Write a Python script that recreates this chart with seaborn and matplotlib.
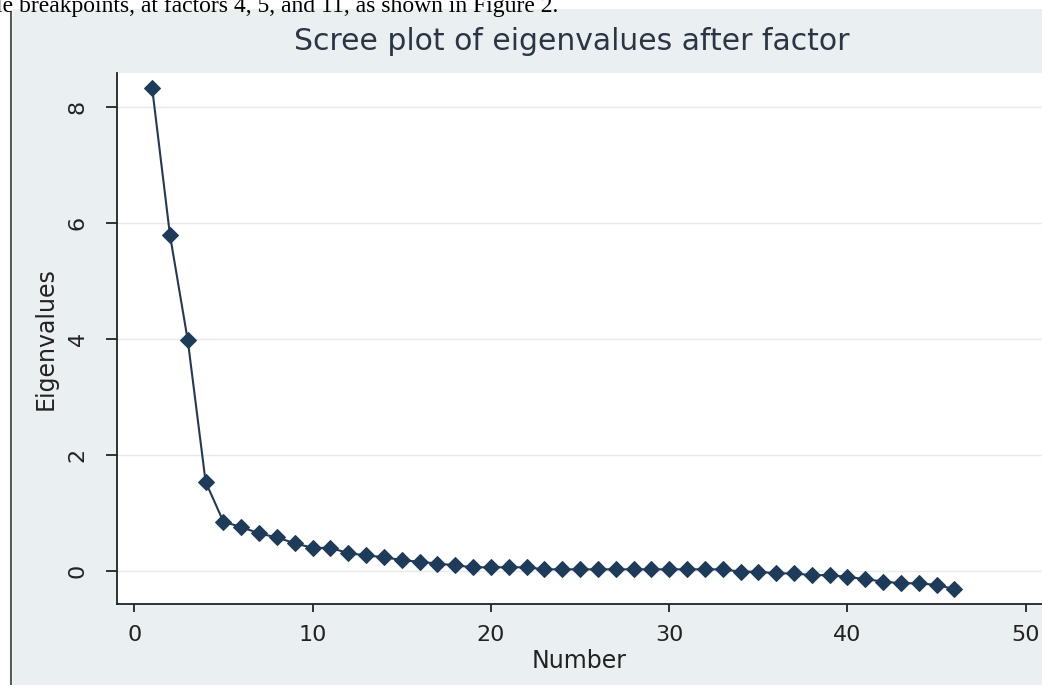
import matplotlib
matplotlib.use("Agg")
import matplotlib.pyplot as plt
from matplotlib.patches import Rectangle
import seaborn as sns
import pandas as pd

# ---- data ----
numbers = list(range(1, 47))
eigenvalues = [8.33, 5.79, 3.97, 1.53, 0.84, 0.75, 0.64, 0.57, 0.47, 0.39,
               0.39, 0.30, 0.26, 0.23, 0.18, 0.15, 0.12, 0.09, 0.055, 0.055,
               0.055, 0.055, 0.02, 0.02, 0.02, 0.02, 0.02, 0.02, 0.02, 0.02,
               0.02, 0.02, 0.02, -0.02, -0.02, -0.05, -0.05, -0.08, -0.08, -0.11,
               -0.15, -0.19, -0.22, -0.22, -0.25, -0.32]
x_ticks = [0, 10, 20, 30, 40, 50]
y_ticks = [0, 2, 4, 6, 8]
title = "Scree plot of eigenvalues after factor"
x_label = "Number"
y_label = "Eigenvalues"
caption = "le breakpoints, at factors 4, 5, and 11, as shown in Figure 2."

df = pd.DataFrame({"Number": numbers, "Eigenvalues": eigenvalues})

sns.set_style("white")
plt.rcParams["font.family"] = ["DejaVu Sans"]

W, H = 1042, 685
fig = plt.figure(figsize=(W / 100, H / 100), dpi=100)
fig.patch.set_facecolor("white")

# outer Stata-like graph region (drawn behind the axes)
bg = fig.add_axes([0, 0, 1, 1], zorder=-5)
bg.set_xlim(0, W)
bg.set_ylim(H, 0)
bg.axis("off")
bg.add_patch(Rectangle((13, 9), W - 13, H - 9, facecolor="#eaf0f2", edgecolor="none"))
bg.plot([11, 11], [12, H], color="#5a5a5a", lw=1.5)

# cut-off document text at top
fig.text(558 / W, 1 - 12 / H, caption, ha="right", va="baseline",
         fontsize=17, family=["Liberation Serif"], color="black")

left, right, top, bottom = 117, 1042, 72.7, 604
ax = fig.add_axes([left / W, 1 - bottom / H, (right - left) / W, (bottom - top) / H], zorder=2)
ax.set_facecolor("white")

sns.lineplot(data=df, x="Number", y="Eigenvalues", ax=ax, color="#253a52",
             linewidth=1.5, marker="D", markersize=8.5,
             markerfacecolor="#1f3b5a", markeredgecolor="#1f3b5a", zorder=3)

ax.set_xlim(-0.97, 50.91)
ax.set_ylim(-0.578, 8.59)
ax.set_xticks(x_ticks)
ax.set_yticks(y_ticks)
ax.set_xticklabels([str(v) for v in x_ticks])
ax.set_yticklabels([str(v) for v in y_ticks])

ax.yaxis.grid(True, color="#e6eaec", lw=1.0)
ax.xaxis.grid(False)
ax.set_axisbelow(True)

for s in ["top", "right"]:
    ax.spines[s].set_visible(False)
for s in ["left", "bottom"]:
    ax.spines[s].set_color("#222222")
    ax.spines[s].set_linewidth(1.3)

ax.tick_params(axis="y", length=8, width=1.3, pad=13, labelsize=16,
               labelrotation=90, colors="#222222", left=True)
ax.tick_params(axis="x", length=6, width=1.3, pad=9, labelsize=16,
               colors="#222222", bottom=True)
for lab in ax.get_yticklabels():
    lab.set_va("center")

ax.set_xlabel(x_label, fontsize=17, labelpad=3, color="#222222")
ax.set_ylabel(y_label, fontsize=17, labelpad=7, color="#222222")

fig.text(572 / W, 1 - 50 / H, title, ha="center", va="baseline",
         fontsize=21.5, color="#2b3543")

fig.savefig("out.png", dpi=100, facecolor=fig.get_facecolor())
